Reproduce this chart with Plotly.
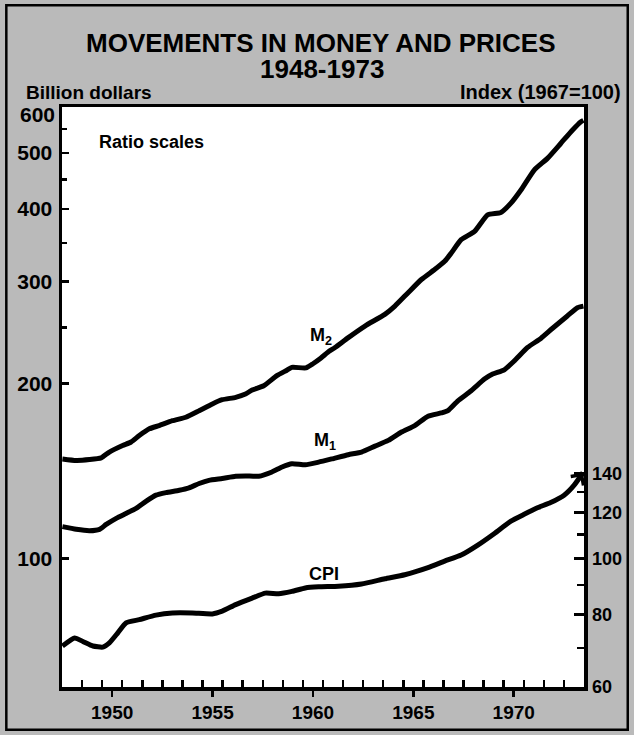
import math
import plotly.graph_objects as go

# ---------------- data ----------------
m2_years = [1948.02, 1948.71, 1949.37, 1949.95, 1950.36, 1951.02, 1951.44, 1951.85,
            1952.35, 1952.84, 1953.5, 1954.17, 1954.83, 1955.49, 1955.98, 1956.65,
            1957.14, 1957.47, 1958.05, 1958.7, 1959.2, 1959.45, 1960.15, 1960.5,
            1960.9, 1961.27, 1961.6, 1962.26, 1963.09, 1964.08, 1964.58, 1965.24,
            1965.9, 1966.56, 1967.06, 1967.39, 1967.88, 1968.55, 1969.2, 1969.86,
            1970.36, 1970.86, 1971.52, 1972.18, 1972.84, 1973.42, 1973.83, 1973.97]
m2_values = [148.4, 147.5, 148.0, 149.0, 152.5, 156.5, 158.7, 162.8,
             167.2, 169.4, 172.7, 175.1, 179.7, 184.6, 187.7, 189.5,
             192.0, 195.1, 198.4, 206.5, 211.0, 213.4, 213.0, 216.5,
             221.5, 227.0, 230.9, 240.2, 251.5, 263.4, 272.2, 287.1,
             302.5, 314.7, 325.2, 336.1, 354.3, 366.1, 391.1, 394.7,
             409.6, 431.6, 467.2, 489.3, 519.1, 547.2, 565.5, 569.0]

m1_years = [1948.02, 1948.71, 1949.37, 1949.87, 1950.2, 1950.7, 1951.19, 1951.69,
            1952.18, 1952.68, 1953.18, 1953.84, 1954.33, 1954.83, 1955.32, 1955.98,
            1956.65, 1957.14, 1957.8, 1958.46, 1958.96, 1959.45, 1960.12, 1960.78,
            1961.44, 1962.26, 1962.92, 1963.59, 1964.25, 1964.91, 1965.57, 1966.23,
            1966.89, 1967.22, 1967.72, 1968.38, 1969.04, 1969.45, 1970.03, 1970.53,
            1971.19, 1971.85, 1972.42, 1973.17, 1973.67, 1973.97]
m1_values = [113.4, 112.2, 111.6, 112.2, 114.4, 117.2, 119.5, 121.9,
             125.4, 128.5, 129.8, 131.0, 132.3, 134.6, 136.3, 137.3,
             138.5, 138.7, 138.5, 140.9, 143.7, 145.6, 145.0, 146.5,
             148.4, 150.9, 152.5, 156.1, 159.7, 165.1, 169.4, 175.8,
             178.1, 179.7, 186.9, 194.5, 203.7, 207.8, 211.4, 219.0,
             231.0, 239.4, 249.0, 261.7, 270.5, 272.2]

cpi_years = [1948.02, 1948.63, 1949.04, 1949.54, 1950.03, 1950.36, 1950.78, 1951.19,
             1951.85, 1952.68, 1953.5, 1954.49, 1955.49, 1955.98, 1956.65, 1957.47,
             1958.13, 1958.79, 1959.45, 1960.12, 1960.78, 1961.77, 1962.92, 1964.08,
             1965.07, 1966.23, 1967.06, 1967.88, 1968.71, 1969.54, 1970.36, 1971.02,
             1971.68, 1972.34, 1973.01, 1973.5, 1973.95]
cpi_values = [70.6, 72.9, 71.9, 70.6, 70.3, 71.5, 74.4, 77.4,
              78.4, 79.8, 80.5, 80.5, 80.2, 81.1, 83.2, 85.4,
              87.1, 86.9, 87.7, 88.9, 89.3, 89.5, 90.3, 92.2,
              93.7, 96.4, 98.9, 101.3, 105.4, 110.4, 115.9, 119.1,
              122.2, 124.8, 128.5, 133.6, 140.5]

year_tick_vals = [1950.5, 1955.5, 1960.5, 1965.5, 1970.5]
year_tick_text = ["1950", "1955", "1960", "1965", "1970"]
year_minor_vals = [1949, 1950, 1951, 1952, 1953, 1954, 1955, 1956, 1957, 1958,
                   1959, 1960, 1961, 1962, 1963, 1964, 1965, 1966, 1967, 1968,
                   1969, 1970, 1971, 1972, 1973]

left_tick_vals = [100, 200, 300, 400, 500]
left_tick_text = ["100", "200", "300", "400", "500"]
left_minor_vals = [250, 350, 450, 550]
right_tick_vals = [60, 80, 100, 120, 140]
right_tick_text = ["60", "80", "100", "120", "140"]
right_minor_vals = [70, 90, 110, 130]

y_min, y_max = 60, 600
x_min, x_max = 1948, 1974

# ---------------- styling ----------------
FONT = "Liberation Sans"
W, H = 634, 735
ML, MR, MT, MB = 62, 47, 107, 46
PW, PH = W - ML - MR, H - MT - MB


def px(xp):
    return (xp - ML) / PW


def py(yp):
    return (H - MB - yp) / PH


line_style = dict(color="black", width=5, shape="spline", smoothing=0.5)

fig = go.Figure()
fig.add_trace(go.Scatter(x=m2_years, y=m2_values, mode="lines", line=line_style,
                         name="M2", showlegend=False, hoverinfo="skip", yaxis="y"))
fig.add_trace(go.Scatter(x=m1_years, y=m1_values, mode="lines", line=line_style,
                         name="M1", showlegend=False, hoverinfo="skip", yaxis="y"))
fig.add_trace(go.Scatter(x=cpi_years, y=cpi_values, mode="lines", line=line_style,
                         name="CPI", showlegend=False, hoverinfo="skip", yaxis="y2"))

left_font = dict(family=FONT, size=21, color="black", weight="bold")
right_font = dict(family=FONT, size=18, color="black", weight="bold")

fig.update_layout(
    width=W, height=H,
    margin=dict(l=ML, r=MR, t=MT, b=MB, pad=0),
    paper_bgcolor="#bababa",
    plot_bgcolor="white",
    showlegend=False,
    xaxis=dict(
        range=[x_min, x_max], tickmode="array", tickvals=year_tick_vals,
        ticktext=year_tick_text, ticks="outside", ticklen=6, tickwidth=2.5,
        tickcolor="black", showline=True, mirror=True, linewidth=3.5,
        linecolor="black", showgrid=False, zeroline=False,
        tickfont=dict(family=FONT, size=19, color="black", weight="bold"),
        ticklabelstandoff=0,
        minor=dict(tickmode="array", tickvals=year_minor_vals, ticks="inside",
                   ticklen=7, tickwidth=2.5, tickcolor="black", showgrid=False),
        fixedrange=True,
    ),
    yaxis=dict(
        type="log", range=[math.log10(y_min), math.log10(y_max)],
        tickmode="array", tickvals=left_tick_vals, ticktext=left_tick_text,
        ticks="inside", ticklen=7, tickwidth=2.5, tickcolor="black",
        showline=True, mirror=False, linewidth=3.5, linecolor="black",
        showgrid=False, zeroline=False, tickfont=left_font, ticklabelstandoff=2,
        minor=dict(tickmode="array", tickvals=left_minor_vals, ticks="inside",
                   ticklen=5, tickwidth=2.5, tickcolor="black", showgrid=False),
        fixedrange=True,
    ),
    yaxis2=dict(
        type="log", range=[math.log10(y_min), math.log10(y_max)],
        overlaying="y", side="right", anchor="x",
        tickmode="array", tickvals=right_tick_vals, ticktext=right_tick_text,
        ticks="inside", ticklen=10, tickwidth=2.5, tickcolor="black",
        showline=True, linewidth=3.5, linecolor="black",
        showgrid=False, zeroline=False, tickfont=right_font,
        ticklabelstandoff=1,
        minor=dict(tickmode="array", tickvals=right_minor_vals, ticks="inside",
                   ticklen=7, tickwidth=2.5, tickcolor="black", showgrid=False),
        fixedrange=True,
    ),
)

ann = []
ann.append(dict(text="MOVEMENTS IN MONEY AND PRICES", xref="paper", yref="paper",
                x=px(322), y=py(43), xanchor="center", yanchor="middle", showarrow=False,
                font=dict(family=FONT, size=26, color="black", weight="bold")))
ann.append(dict(text="1948-1973", xref="paper", yref="paper",
                x=px(323), y=py(69), xanchor="center", yanchor="middle", showarrow=False,
                font=dict(family=FONT, size=26, color="black", weight="bold")))
ann.append(dict(text="Billion dollars", xref="paper", yref="paper",
                x=px(24), y=py(92), xanchor="left", yanchor="middle", showarrow=False,
                font=dict(family=FONT, size=19, color="black", weight="bold")))
ann.append(dict(text="Index (1967=100)", xref="paper", yref="paper",
                x=px(626), y=py(92), xanchor="right", yanchor="middle", showarrow=False,
                font=dict(family=FONT, size=20, color="black", weight="bold")))
ann.append(dict(text="600", xref="paper", yref="paper",
                x=px(57), y=py(115), xanchor="right", yanchor="middle", showarrow=False,
                font=left_font))
ann.append(dict(text="Ratio scales", xref="paper", yref="paper",
                x=px(152), y=py(142), xanchor="center", yanchor="middle", showarrow=False,
                font=dict(family=FONT, size=18, color="black", weight="bold")))

label_font = dict(family=FONT, size=18, color="black", weight="bold")
ann.append(dict(text="M<sub>2</sub>", xref="x", yref="y", x=1960.9, y=math.log10(241),
                xanchor="center", yanchor="middle", showarrow=False, font=label_font))
ann.append(dict(text="M<sub>1</sub>", xref="x", yref="y", x=1961.1, y=math.log10(159),
                xanchor="center", yanchor="middle", showarrow=False, font=label_font))
ann.append(dict(text="CPI", xref="x", yref="y2", x=1961.05, y=math.log10(93.9),
                xanchor="center", yanchor="middle", showarrow=False, font=label_font))

# arrowhead at the end of the CPI curve
ann.append(dict(text="", xref="x", yref="y2", x=cpi_years[-1], y=math.log10(cpi_values[-1]),
                axref="x", ayref="y2", ax=cpi_years[-2], ay=math.log10(cpi_values[-2]),
                showarrow=True, arrowhead=4, arrowsize=1.0, arrowwidth=3,
                arrowcolor="black", standoff=0))
fig.update_layout(annotations=ann)

# outer frame of the figure
fig.add_shape(type="rect", xref="paper", yref="paper",
              x0=px(6), x1=px(631), y0=py(732), y1=py(5),
              line=dict(color="black", width=2.5), fillcolor="rgba(0,0,0,0)", layer="above")

fig.write_html(
    "out.html",
    config={"displayModeBar": False, "staticPlot": True},
    post_script="document.body.style.margin='0';document.body.style.overflow='hidden';",
)
